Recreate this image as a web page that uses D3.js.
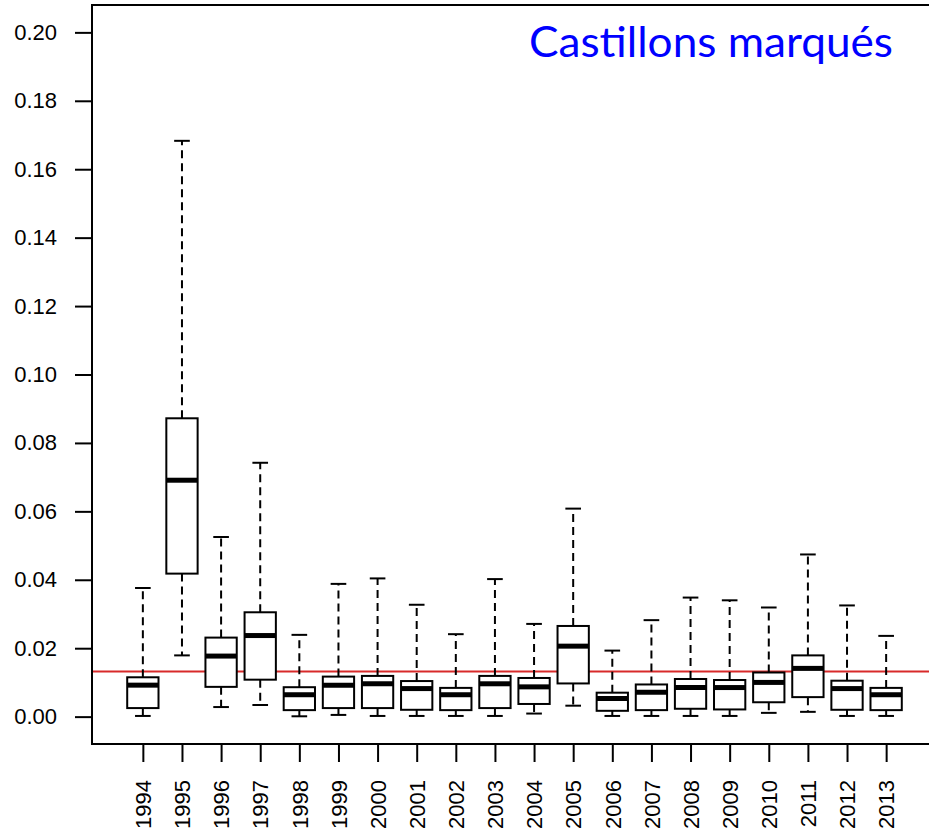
<!DOCTYPE html>
<html>
<head>
<meta charset="utf-8">
<script src="https://cdn.jsdelivr.net/npm/d3@7"></script>
<style>
  body { margin: 0; background: #fff; }
  .axis text { font-family: 'Liberation Sans', Arial, sans-serif; font-size: 22px; fill: #000; }
</style>
</head>
<body>
<div class="chart"></div>
<script>
var years = ['1994', '1995', '1996', '1997', '1998', '1999', '2000', '2001', '2002', '2003',
  '2004', '2005', '2006', '2007', '2008', '2009', '2010', '2011', '2012', '2013'];
var whiskerLow = [0.0002, 0.0179, 0.0028, 0.0034, 0.0001, 0.0005, 0.0002, 0.0002, 0.0002, 0.0002,
  0.0009, 0.0032, 0.0002, 0.0002, 0.0002, 0.0002, 0.0011, 0.0014, 0.0002, 0.0002];
var q1 = [0.0025, 0.0418, 0.0087, 0.0108, 0.0019, 0.0025, 0.0025, 0.0020, 0.0019, 0.0025,
  0.0037, 0.0097, 0.0017, 0.0019, 0.0023, 0.0021, 0.0042, 0.0057, 0.0020, 0.0019];
var medians = [0.0092, 0.0691, 0.0177, 0.0237, 0.0064, 0.0092, 0.0096, 0.0082, 0.0064, 0.0096,
  0.0087, 0.0206, 0.0053, 0.0071, 0.0085, 0.0085, 0.0100, 0.0141, 0.0082, 0.0064];
var q3 = [0.0115, 0.0872, 0.0231, 0.0305, 0.0086, 0.0117, 0.0119, 0.0104, 0.0084, 0.0119,
  0.0113, 0.0265, 0.0070, 0.0094, 0.0110, 0.0107, 0.0129, 0.0179, 0.0105, 0.0084];
var whiskerHigh = [0.0376, 0.1683, 0.0525, 0.0742, 0.0239, 0.0388, 0.0404, 0.0327, 0.0241, 0.0402,
  0.0271, 0.0608, 0.0193, 0.0282, 0.0348, 0.0340, 0.0319, 0.0474, 0.0325, 0.0236];
var yTicks = [0, 0.02, 0.04, 0.06, 0.08, 0.10, 0.12, 0.14, 0.16, 0.18, 0.20];
var refValue = 0.0132;
var title = 'Castillons marqués';

var svgWidth = 929;
var svgHeight = 829;

var svg = d3
  .select('.chart')
  .append('svg')
  .attr('width', svgWidth)
  .attr('height', svgHeight);

// R style plot region: boxes at 1..n, xlim extended by 4%
var xScale = d3.scaleLinear().domain([-0.3, years.length + 1.3]).range([92, 937]);
var yScale = d3.scaleLinear().domain([-0.008, 0.208]).range([744, 5]);

var unit = xScale(1) - xScale(0);
var boxW = unit * 0.8;

var data = years.map(function(y, i) {
  return { year: y, pos: i + 1, lo: whiskerLow[i], q1: q1[i], med: medians[i], q3: q3[i], hi: whiskerHigh[i] };
});

// axes
var leftAxis = d3.axisLeft(yScale)
  .tickValues(yTicks)
  .tickSize(17)
  .tickPadding(18)
  .tickFormat(d3.format('.2f'));

svg.append('g')
  .attr('class', 'axis')
  .attr('transform', 'translate(' + xScale.range()[0] + ',0)')
  .call(leftAxis)
  .call(function(g) { g.select('.domain').remove(); })
  .selectAll('line').attr('stroke', '#000').attr('stroke-width', 2);

var bottomAxis = d3.axisBottom(xScale)
  .tickValues(data.map(function(d) { return d.pos; }))
  .tickSize(18)
  .tickFormat(function(d) { return years[d - 1]; });

var xg = svg.append('g')
  .attr('class', 'axis')
  .attr('transform', 'translate(0,' + yScale.range()[0] + ')')
  .call(bottomAxis)
  .call(function(g) { g.select('.domain').remove(); });

xg.selectAll('line').attr('stroke', '#000').attr('stroke-width', 2);
xg.selectAll('text')
  .attr('transform', 'rotate(-90)')
  .attr('x', -36)
  .attr('y', 0)
  .attr('dy', '0.35em')
  .style('text-anchor', 'end');

// reference line
svg.append('line')
  .attr('x1', xScale.range()[0])
  .attr('x2', xScale.range()[1])
  .attr('y1', yScale(refValue))
  .attr('y2', yScale(refValue))
  .attr('stroke', '#d82a2a')
  .attr('stroke-width', 2);

var boxes = svg.append('g')
  .selectAll('g')
  .data(data)
  .enter()
  .append('g');

// whiskers (dashed)
boxes.append('line')
  .attr('x1', function(d) { return xScale(d.pos); })
  .attr('x2', function(d) { return xScale(d.pos); })
  .attr('y1', function(d) { return yScale(d.q3); })
  .attr('y2', function(d) { return yScale(d.hi); })
  .attr('stroke', '#000')
  .attr('stroke-width', 2)
  .attr('stroke-dasharray', '8,5');

boxes.append('line')
  .attr('x1', function(d) { return xScale(d.pos); })
  .attr('x2', function(d) { return xScale(d.pos); })
  .attr('y1', function(d) { return yScale(d.q1); })
  .attr('y2', function(d) { return yScale(d.lo); })
  .attr('stroke', '#000')
  .attr('stroke-width', 2)
  .attr('stroke-dasharray', '8,5');

// staples
['lo', 'hi'].forEach(function(k) {
  boxes.append('line')
    .attr('x1', function(d) { return xScale(d.pos) - boxW / 4; })
    .attr('x2', function(d) { return xScale(d.pos) + boxW / 4; })
    .attr('y1', function(d) { return yScale(d[k]); })
    .attr('y2', function(d) { return yScale(d[k]); })
    .attr('stroke', '#000')
    .attr('stroke-width', 2);
});

boxes.append('rect')
  .attr('x', function(d) { return xScale(d.pos) - boxW / 2; })
  .attr('y', function(d) { return yScale(d.q3); })
  .attr('width', boxW)
  .attr('height', function(d) { return yScale(d.q1) - yScale(d.q3); })
  .attr('fill', '#fff')
  .attr('stroke', '#000')
  .attr('stroke-width', 2);

boxes.append('line')
  .attr('x1', function(d) { return xScale(d.pos) - boxW / 2; })
  .attr('x2', function(d) { return xScale(d.pos) + boxW / 2; })
  .attr('y1', function(d) { return yScale(d.med); })
  .attr('y2', function(d) { return yScale(d.med); })
  .attr('stroke', '#000')
  .attr('stroke-width', 5);

// plot frame
svg.append('rect')
  .attr('x', xScale.range()[0])
  .attr('y', yScale.range()[1])
  .attr('width', xScale.range()[1] - xScale.range()[0])
  .attr('height', yScale.range()[0] - yScale.range()[1])
  .attr('fill', 'none')
  .attr('stroke', '#000')
  .attr('stroke-width', 2);

svg.append('text')
  .attr('x', 529)
  .attr('y', 57)
  .attr('font-family', 'Lato, "Open Sans", sans-serif')
  .attr('font-size', 42)
  .attr('fill', '#0000ff')
  .attr('textLength', 364)
  .attr('lengthAdjust', 'spacingAndGlyphs')
  .text(title);
</script>
</body>
</html>
